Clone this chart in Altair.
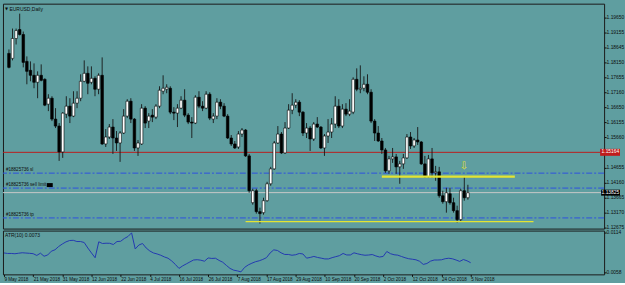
import altair as alt
import pandas as pd

# ---------------- data ----------------
open_ = [1.18450, 1.18285, 1.18946, 1.19243, 1.19078, 1.18185, 1.17888, 1.17723, 1.17491, 1.17723,
         1.17590, 1.16764, 1.16962, 1.16268, 1.16037, 1.15177, 1.16433, 1.16698, 1.16367, 1.16797,
         1.16962, 1.17524, 1.17789, 1.17491, 1.17623, 1.17260, 1.17723, 1.15442, 1.15673, 1.16004,
         1.15640, 1.15475, 1.15805, 1.16367, 1.16863, 1.16268, 1.15309, 1.15442, 1.16632, 1.16202,
         1.16400, 1.16334, 1.16698, 1.17194, 1.17260, 1.17293, 1.16499, 1.16466, 1.16632, 1.16896,
         1.16400, 1.16169, 1.16136, 1.16995, 1.16698, 1.16632, 1.17095, 1.16268, 1.16367, 1.16830,
         1.16698, 1.16367, 1.15640, 1.15442, 1.15342, 1.15772, 1.15905, 1.15045, 1.13491, 1.13888,
         1.13193, 1.13160, 1.13557, 1.14119, 1.14615, 1.15475, 1.15772, 1.15144, 1.15971, 1.16566,
         1.16731, 1.16830, 1.16499, 1.15805, 1.15971, 1.15607, 1.16103, 1.16004, 1.15309, 1.15706,
         1.15838, 1.16103, 1.16698, 1.16037, 1.16599, 1.16433, 1.16499, 1.17590, 1.17260, 1.17293,
         1.17425, 1.17161, 1.16202, 1.15805, 1.15541, 1.15243, 1.14549, 1.14946, 1.15012, 1.14681,
         1.14780, 1.14979, 1.15673, 1.15376, 1.15574, 1.15508, 1.14780, 1.14351, 1.14946, 1.14483,
         1.14516, 1.13722, 1.13524, 1.13789, 1.13491, 1.13226, 1.12929, 1.13888, 1.13656]
high_ = [1.18582, 1.19276, 1.19276, 1.19772, 1.19177, 1.18351, 1.18185, 1.18119, 1.17855, 1.18086,
         1.17623, 1.17095, 1.17028, 1.16632, 1.16136, 1.16499, 1.17028, 1.16962, 1.17194, 1.17194,
         1.17756, 1.18219, 1.18020, 1.18020, 1.17690, 1.17789, 1.18318, 1.15938, 1.16103, 1.16268,
         1.15871, 1.15871, 1.16599, 1.16929, 1.16962, 1.16301, 1.15574, 1.16764, 1.16698, 1.16466,
         1.16599, 1.16764, 1.17359, 1.17723, 1.17425, 1.17359, 1.16665, 1.16764, 1.17028, 1.17260,
         1.16466, 1.16334, 1.17061, 1.17194, 1.16863, 1.17194, 1.17161, 1.16466, 1.16962, 1.16929,
         1.16797, 1.16433, 1.15739, 1.15541, 1.15871, 1.15971, 1.15938, 1.15111, 1.13954, 1.13954,
         1.13326, 1.13656, 1.14185, 1.14681, 1.15541, 1.16037, 1.15838, 1.16169, 1.16764, 1.17128,
         1.16929, 1.16896, 1.16533, 1.16136, 1.16037, 1.16169, 1.16334, 1.16037, 1.15772, 1.16268,
         1.16301, 1.17028, 1.16929, 1.16764, 1.16797, 1.16929, 1.17656, 1.17954, 1.18053, 1.17690,
         1.17756, 1.17260, 1.16268, 1.16037, 1.15640, 1.15309, 1.15045, 1.15309, 1.15111, 1.14880,
         1.15111, 1.15772, 1.15838, 1.15640, 1.16004, 1.15541, 1.15045, 1.15078, 1.15309, 1.14714,
         1.14681, 1.13888, 1.13987, 1.13987, 1.13656, 1.13392, 1.13954, 1.14351, 1.14086]
low_ = [1.17954, 1.18219, 1.18747, 1.19045, 1.17987, 1.17425, 1.17524, 1.17293, 1.16962, 1.17524,
        1.16698, 1.16533, 1.16202, 1.15971, 1.14880, 1.14979, 1.16301, 1.16136, 1.16334, 1.16632,
        1.16863, 1.17491, 1.17095, 1.17425, 1.17028, 1.17095, 1.15409, 1.15342, 1.15607, 1.15111,
        1.15210, 1.14847, 1.15772, 1.16301, 1.16136, 1.15210, 1.15045, 1.15409, 1.15971, 1.15971,
        1.16169, 1.16268, 1.16632, 1.17095, 1.17128, 1.16433, 1.16235, 1.16004, 1.16599, 1.16334,
        1.16103, 1.15640, 1.16103, 1.16632, 1.16533, 1.16599, 1.16235, 1.16136, 1.16268, 1.16599,
        1.16334, 1.15607, 1.15376, 1.15276, 1.15276, 1.15673, 1.15012, 1.13822, 1.13425, 1.13127,
        1.12797, 1.13094, 1.13524, 1.14053, 1.14582, 1.15442, 1.15111, 1.15111, 1.15938, 1.16433,
        1.16632, 1.16367, 1.15706, 1.15640, 1.15210, 1.15541, 1.15971, 1.15276, 1.15045, 1.15475,
        1.15640, 1.15971, 1.15971, 1.15971, 1.16367, 1.16367, 1.16433, 1.17194, 1.17128, 1.17194,
        1.17095, 1.16136, 1.15541, 1.15508, 1.15111, 1.14483, 1.14450, 1.14813, 1.14450, 1.14119,
        1.14615, 1.14946, 1.15276, 1.15309, 1.15409, 1.14747, 1.14318, 1.14318, 1.14318, 1.14218,
        1.13656, 1.13458, 1.13160, 1.13425, 1.13160, 1.12830, 1.12863, 1.13557, 1.13590]
close_ = [1.17987, 1.18946, 1.19210, 1.19078, 1.18152, 1.17855, 1.17723, 1.17491, 1.17723, 1.17557,
          1.16731, 1.16962, 1.16268, 1.16037, 1.15177, 1.16466, 1.16698, 1.16367, 1.16797, 1.16962,
          1.17524, 1.17789, 1.17458, 1.17623, 1.17260, 1.17723, 1.15442, 1.15673, 1.16004, 1.15640,
          1.15475, 1.15805, 1.16367, 1.16863, 1.16268, 1.15309, 1.15475, 1.16632, 1.16136, 1.16367,
          1.16334, 1.16698, 1.17227, 1.17293, 1.17326, 1.16499, 1.16466, 1.16632, 1.16896, 1.16400,
          1.16169, 1.16136, 1.16995, 1.16698, 1.16632, 1.17095, 1.16301, 1.16367, 1.16830, 1.16698,
          1.16367, 1.15640, 1.15442, 1.15309, 1.15772, 1.15905, 1.15045, 1.13888, 1.13888, 1.13193,
          1.13127, 1.13557, 1.14119, 1.14615, 1.15475, 1.15772, 1.15144, 1.15971, 1.16566, 1.16731,
          1.16830, 1.16499, 1.15805, 1.15971, 1.15607, 1.16103, 1.16004, 1.15309, 1.15706, 1.15838,
          1.16103, 1.16698, 1.16037, 1.16599, 1.16433, 1.16533, 1.17590, 1.17260, 1.17293, 1.17425,
          1.17161, 1.16202, 1.15805, 1.15541, 1.15243, 1.14549, 1.14946, 1.15012, 1.14681, 1.14780,
          1.14979, 1.15673, 1.15376, 1.15574, 1.15508, 1.14780, 1.14351, 1.14946, 1.14483, 1.14516,
          1.13722, 1.13524, 1.13822, 1.13491, 1.13226, 1.12929, 1.13888, 1.13656, 1.13822]
atr10 = [0.00857, 0.00850, 0.00850, 0.00846, 0.00853, 0.00860, 0.00856, 0.00852, 0.00847, 0.00822,
         0.00854, 0.00811, 0.00829, 0.00882, 0.00902, 0.00948, 0.00983, 0.01013, 0.01032, 0.01035,
         0.01018, 0.01018, 0.01004, 0.00927, 0.00857, 0.00790, 0.01014, 0.00990, 0.00994, 0.00993,
         0.00976, 0.01018, 0.01021, 0.01060, 0.01088, 0.01140, 0.00913, 0.00969, 0.00990, 0.00927,
         0.00885, 0.00857, 0.00843, 0.00825, 0.00801, 0.00783, 0.00745, 0.00696, 0.00640, 0.00675,
         0.00703, 0.00731, 0.00758, 0.00762, 0.00755, 0.00741, 0.00787, 0.00780, 0.00783, 0.00752,
         0.00727, 0.00682, 0.00640, 0.00615, 0.00605, 0.00591, 0.00654, 0.00689, 0.00713, 0.00734,
         0.00747, 0.00766, 0.00791, 0.00857, 0.00901, 0.00892, 0.00859, 0.00836, 0.00836, 0.00825,
         0.00832, 0.00850, 0.00843, 0.00784, 0.00794, 0.00808, 0.00794, 0.00784, 0.00773, 0.00773,
         0.00791, 0.00805, 0.00819, 0.00850, 0.00829, 0.00829, 0.00859, 0.00845, 0.00833, 0.00825,
         0.00828, 0.00835, 0.00815, 0.00800, 0.00808, 0.00878, 0.00847, 0.00832, 0.00826, 0.00808,
         0.00790, 0.00776, 0.00769, 0.00761, 0.00740, 0.00696, 0.00709, 0.00742, 0.00758, 0.00758,
         0.00761, 0.00776, 0.00783, 0.00775, 0.00758, 0.00738, 0.00765, 0.00747, 0.00720]

date_tick_bars = [0, 8, 16, 24, 32, 40, 48, 56, 64, 72, 80, 88, 96, 104, 112, 120, 128]
date_tick_labels = ["9 May 2018", "21 May 2018", "31 May 2018", "12 Jun 2018", "22 Jun 2018",
                    "4 Jul 2018", "16 Jul 2018", "26 Jul 2018", "7 Aug 2018", "17 Aug 2018",
                    "29 Aug 2018", "10 Sep 2018", "20 Sep 2018", "2 Oct 2018", "12 Oct 2018",
                    "24 Oct 2018", "5 Nov 2018"]
price_ticks = [1.19650, 1.19155, 1.18645, 1.18150, 1.17655, 1.17160, 1.16650, 1.16155,
               1.15660, 1.14655, 1.14160, 1.13665, 1.13170, 1.12675]
atr_ticks = [0.0114, 0.0058]

red_level = 1.15164
bid_level = 1.13825
order_ticket = "#18825736"
order_names = ["sl", "sell limit", "tp"]
order_levels = [1.14473, 1.13977, 1.12985]
yellow_levels = [1.14360, 1.12863]
yellow_start = [104.0, 66.0]
yellow_end = [141.1, 146.3]
arrow_bar = [126.9]
arrow_price = [1.14714]
symbol_title = "EURUSD,Daily"
atr_title = "ATR(10) 0.0073"

# ---------------- build ----------------
FONT = "Liberation Sans"
BG = "#5f9ea0"
INK = "#0d0d0d"

n = len(close_)
df = pd.DataFrame({"bar": list(range(n)), "open": open_, "high": high_, "low": low_,
                   "close": close_, "atr": atr10})
df["top"] = df[["open", "close"]].max(axis=1)
df["bottom"] = df[["open", "close"]].min(axis=1)
df["bull"] = df["close"] >= df["open"]

x_scale = alt.Scale(domain=[-0.27, 164.6], nice=False, zero=False)
y_scale = alt.Scale(domain=[1.12631, 1.20103], nice=False, zero=False)
y_axis = alt.Axis(orient="right", values=price_ticks, format=".5f", title=None,
                  tickSize=2, labelPadding=0, labelOverlap=False, domain=False, grid=False,
                  labelFontSize=4.9)


def X(field):
    return alt.X(f"{field}:Q", scale=x_scale, axis=None)


def Y(field):
    return alt.Y(f"{field}:Q", scale=y_scale, axis=y_axis)


red_df = pd.DataFrame({"level": [red_level], "label": [f"{red_level:.5f}"]})
bid_df = pd.DataFrame({"level": [bid_level], "label": [f"{bid_level:.5f}"]})
orders_df = pd.DataFrame({"level": order_levels,
                          "label": [f"{order_ticket} {nm}" for nm in order_names]})
yellow_df = pd.DataFrame({"start": yellow_start, "end": yellow_end, "level": yellow_levels,
                          "w": [2.2, 1.4]})
arrow_df = pd.DataFrame({"bar": arrow_bar, "price": arrow_price})

red_line = alt.Chart(red_df).mark_rule(color="#b81e1e", strokeWidth=1).encode(y=Y("level"))
order_lines = alt.Chart(orders_df).mark_rule(
    color="#2d52e0", strokeWidth=1, strokeDash=[6, 2, 2, 2]).encode(y=Y("level"))
bid_line = alt.Chart(bid_df).mark_rule(color="#c8c8c8", strokeWidth=1).encode(y=Y("level"))

wicks = alt.Chart(df).mark_rule(color="#161616", strokeWidth=0.9).encode(
    x=X("bar"), y=Y("low"), y2="high:Q")
bodies = alt.Chart(df).mark_bar(size=2.6, stroke="#000000", strokeWidth=0.6).encode(
    x=X("bar"), y=Y("bottom"), y2="top:Q",
    fill=alt.condition(alt.datum.bull, alt.value("#ffffff"), alt.value("#000000")))

yellow = alt.Chart(yellow_df).mark_rule(color="#e4e432").encode(
    x=X("start"), x2="end:Q", y=Y("level"),
    strokeWidth=alt.StrokeWidth("w:Q", scale=None))
arrow = alt.Chart(arrow_df).mark_text(
    text="⇩", fontSize=10, color="#e4e432", font="DejaVu Sans").encode(
    x=X("bar"), y=Y("price"))

order_text = alt.Chart(orders_df).mark_text(
    align="left", baseline="bottom", dy=-1, fontSize=4.6, font=FONT, color=INK).encode(
    x=alt.value(3), y=Y("level"), text="label:N")
marker = alt.Chart(orders_df.iloc[[1]]).mark_rule(
    color="#000000", strokeWidth=4, yOffset=-3).encode(
    x=alt.value(44), x2=alt.value(50), y=Y("level"))

title_df = pd.DataFrame({"t": [symbol_title], "tri": ["▼"]})
title_tri = alt.Chart(title_df).mark_text(
    align="left", baseline="middle", fontSize=4, font="DejaVu Sans", color=INK).encode(
    x=alt.value(2), y=alt.value(5), text="tri:N")
title_text = alt.Chart(title_df).mark_text(
    align="left", baseline="middle", fontSize=5, font=FONT, color=INK).encode(
    x=alt.value(6.5), y=alt.value(5), text="t:N")

red_box = alt.Chart(red_df).mark_rule(color="#c01c1c", strokeWidth=7).encode(
    x=alt.value(600), x2=alt.value(620), y=Y("level"))
red_txt = alt.Chart(red_df).mark_text(
    align="left", baseline="middle", fontSize=4.9, font=FONT, color="#ffffff").encode(
    x=alt.value(601.5), y=Y("level"), text="label:N")
bid_box = alt.Chart(bid_df).mark_rule(color="#000000", strokeWidth=6).encode(
    x=alt.value(601), x2=alt.value(620), y=Y("level"))
bid_txt = alt.Chart(bid_df).mark_text(
    align="left", baseline="middle", fontSize=4.9, font=FONT, color="#ffffff").encode(
    x=alt.value(601.5), y=Y("level"), text="label:N")

main = alt.layer(
    red_line, order_lines, bid_line, wicks, bodies, yellow, arrow,
    order_text, marker, title_tri, title_text, red_box, red_txt, bid_box, bid_txt
).properties(width=604, height=226)

label_array = "[" + ",".join(f"'{s}'" for s in date_tick_labels) + "]"
atr_x_axis = alt.Axis(values=date_tick_bars, labelExpr=f"{label_array}[round(datum.value / 8)]",
                      orient="bottom", tickSize=2, labelAlign="left", labelBaseline="top",
                      labelPadding=0, labelFlush=False, labelOverlap=False, title=None,
                      domain=False, grid=False, labelFontSize=4.6)
atr_y = alt.Y("atr:Q", scale=alt.Scale(domain=[0.00556, 0.01172], nice=False, zero=False),
              axis=alt.Axis(orient="right", values=atr_ticks, format=".4f", title=None,
                            tickSize=2, labelPadding=0, domain=False, grid=False,
                            labelFontSize=4.9))
atr_line = alt.Chart(df).mark_line(color="#2339b0", strokeWidth=1).encode(
    x=alt.X("bar:Q", scale=x_scale, axis=atr_x_axis), y=atr_y)
atr_df = pd.DataFrame({"t": [atr_title]})
atr_text = alt.Chart(atr_df).mark_text(
    align="left", baseline="middle", fontSize=5, font=FONT, color=INK).encode(
    x=alt.value(2), y=alt.value(4.5), text="t:N")
atr_panel = alt.layer(atr_line, atr_text).properties(width=604, height=44)

chart = alt.vconcat(main, atr_panel, spacing=2, bounds="flush").properties(
    background=BG,
    padding={"left": 1, "top": 2, "right": 0, "bottom": 0},
).configure_view(stroke="#1a1a1a", strokeWidth=1).configure_axis(
    labelFont=FONT, labelColor=INK, tickColor=INK, tickWidth=1
)

chart.save("out.html", embed_options={"renderer": "svg", "actions": False})
